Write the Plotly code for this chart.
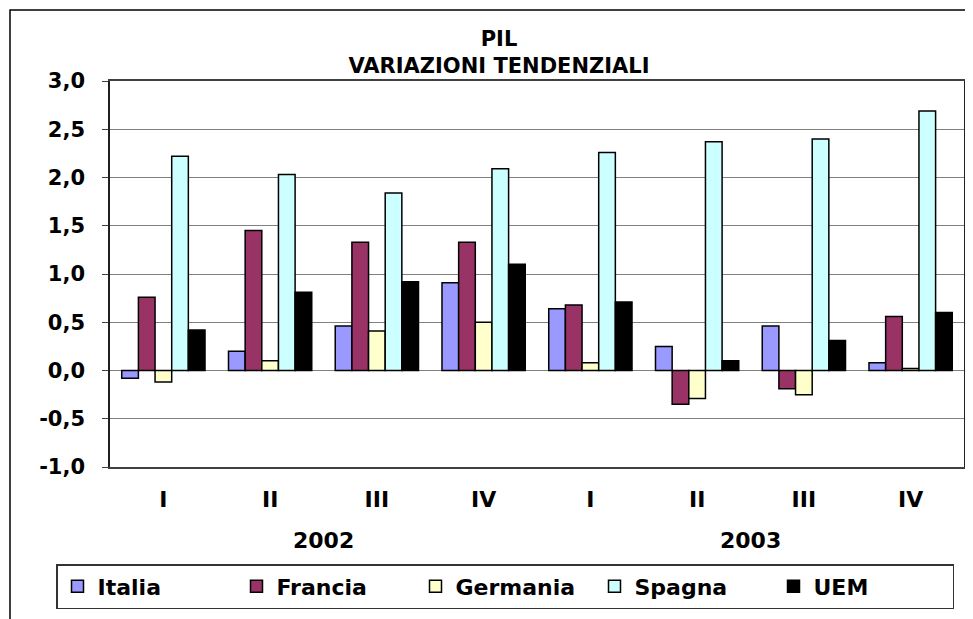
import plotly.graph_objects as go

quarters = ["I", "II", "III", "IV", "I", "II", "III", "IV"]
years = ["2002", "2002", "2002", "2002", "2003", "2003", "2003", "2003"]
series_names = ["Italia", "Francia", "Germania", "Spagna", "UEM"]
italia = [-0.08, 0.20, 0.46, 0.91, 0.64, 0.25, 0.46, 0.08]
francia = [0.76, 1.45, 1.33, 1.33, 0.68, -0.35, -0.19, 0.56]
germania = [-0.12, 0.10, 0.41, 0.50, 0.08, -0.29, -0.25, 0.02]
spagna = [2.22, 2.03, 1.84, 2.09, 2.26, 2.37, 2.40, 2.69]
uem = [0.42, 0.81, 0.92, 1.10, 0.71, 0.10, 0.31, 0.60]
y_tick_values = [-1.0, -0.5, 0.0, 0.5, 1.0, 1.5, 2.0, 2.5, 3.0]
y_tick_labels = ["-1,0", "-0,5", "0,0", "0,5", "1,0", "1,5", "2,0", "2,5", "3,0"]

colors = ["#9999FF", "#993366", "#FFFFCC", "#CCFFFF", "#000000"]
values = [italia, francia, germania, spagna, uem]

# page body has an 8px margin: size the figure so it fits the 973x619 window
OFF = 8
W, H = 973 - OFF, 619 - OFF
# plot area in screen pixels: x 110..964, y 81..467
L, T = 110 - OFF, 81 - OFF
R = W - (964 - OFF)
B = H - (467 - OFF)
pw, ph = W - L - R, H - T - B

def px_x(sx):
    return (sx - OFF - L) / pw

def px_y(sy):
    return (H - B - (sy - OFF)) / ph

FONT = "Verdana, DejaVu Sans, sans-serif"
xs = list(range(len(quarters)))

fig = go.Figure()
for name, vals, col in zip(series_names, values, colors):
    fig.add_trace(go.Bar(
        x=xs, y=vals, name=name,
        marker=dict(color=col, line=dict(color="black", width=1.5)),
    ))

# year labels centred under their quarters
for yr in dict.fromkeys(years):
    idx = [i for i, y in enumerate(years) if y == yr]
    fig.add_annotation(
        x=sum(idx) / len(idx), xref="x", y=px_y(540), yref="paper",
        text=yr, showarrow=False, xanchor="center", yanchor="middle",
        font=dict(size=22, family=FONT, color="black", weight="bold"),
    )

# outer chart frame
fig.add_shape(type="rect", xref="paper", yref="paper",
              x0=px_x(10), x1=px_x(990), y0=px_y(640), y1=px_y(10),
              line=dict(color="black", width=1.5), layer="below")

fig.update_layout(
    width=W, height=H,
    margin=dict(l=L, r=R, t=T, b=B, autoexpand=False),
    paper_bgcolor="white", plot_bgcolor="white",
    font=dict(family=FONT, size=21, color="black", weight="bold"),
    title=dict(text="PIL<br>VARIAZIONI TENDENZIALI", xref="container", x=(499 - OFF) / W,
               xanchor="center", yref="container", y=1 - (46 - OFF) / H, yanchor="top",
               font=dict(size=21, family=FONT, color="black", weight="bold")),
    barmode="group", bargap=0.22, bargroupgap=0,
    showlegend=True,
    legend=dict(orientation="h", x=px_x(56), xanchor="left", y=px_y(564), yanchor="top",
                bordercolor="#333333", borderwidth=1.5, bgcolor="white",
                entrywidth=134, entrywidthmode="pixels",
                font=dict(size=22, family=FONT, color="black", weight="bold")),
    xaxis=dict(range=[-0.5, len(quarters) - 0.5], tickvals=xs, ticktext=quarters,
               showgrid=False, zeroline=False, showline=True, mirror=True,
               linecolor="#404040", linewidth=1.5, ticks="", ticklabelstandoff=12,
               tickfont=dict(size=22)),
    yaxis=dict(range=[-1, 3], tickvals=y_tick_values, ticktext=y_tick_labels,
               showgrid=True, gridcolor="#808080", gridwidth=1,
               zeroline=True, zerolinecolor="#808080", zerolinewidth=1,
               showline=True, mirror=True, linecolor="#202020", linewidth=1.5,
               ticks="outside", ticklen=6, tickcolor="#404040", ticklabelstandoff=13),
)

fig.write_html("out.html")
